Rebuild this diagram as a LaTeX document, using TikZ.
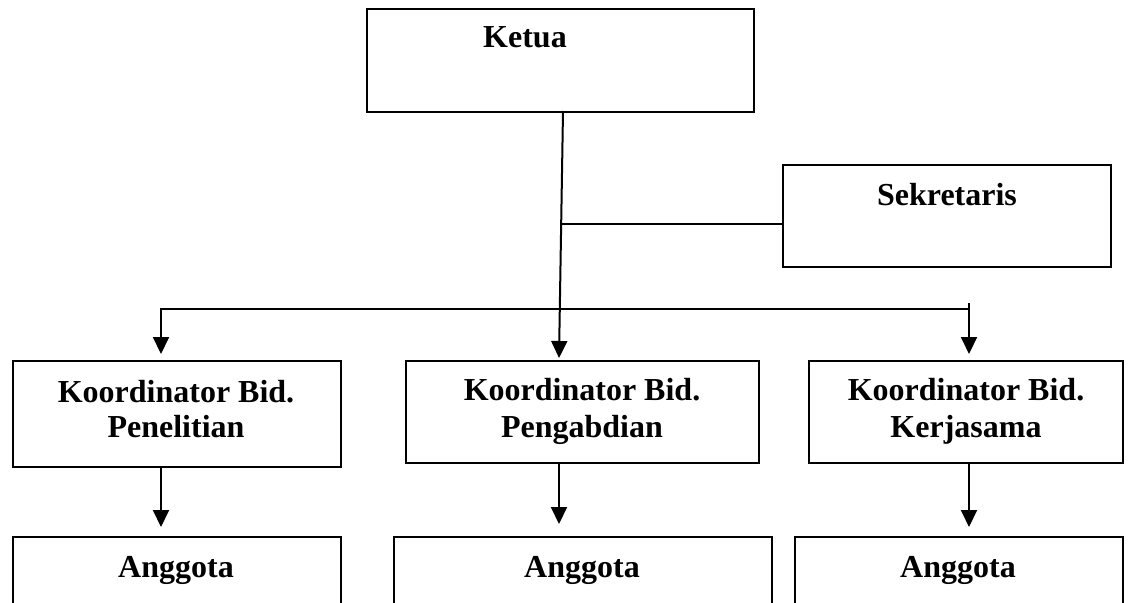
\documentclass[tikz,border=0pt]{standalone}
\usepackage{fontspec}
\setmainfont{Liberation Serif}
\usetikzlibrary{arrows.meta}
\begin{document}
\begin{tikzpicture}[x=1pt,y=-1pt,
  box/.style={draw, line width=2pt, inner sep=0pt, anchor=north west},
  lbl/.style={anchor=base, inner sep=0pt, font=\fontsize{32}{35}\selectfont\bfseries},
  conn/.style={line width=2pt},
  arr/.style={conn, -{Triangle[width=16pt,length=17pt]}}]
\clip (0,0) rectangle (1129,602);
\fill[white] (0,0) rectangle (1129,602);
% boxes
\node[box, minimum width=387pt, minimum height=103pt] (ketua) at (366,8) {};
\node[box, minimum width=328pt, minimum height=102pt] (sek) at (782,164) {};
\node[box, minimum width=328pt, minimum height=106pt] (k1) at (12,360) {};
\node[box, minimum width=353pt, minimum height=102pt] (k2) at (405,360) {};
\node[box, minimum width=314pt, minimum height=102pt] (k3) at (808,360) {};
\node[box, minimum width=328pt, minimum height=90pt] (a1) at (12,536) {};
\node[box, minimum width=378pt, minimum height=90pt] (a2) at (393,536) {};
\node[box, minimum width=328pt, minimum height=90pt] (a3) at (794,536) {};
% texts
\node[lbl] (tketua) at (525,48) {Ketua};
\node[lbl] (tsek) at (947,205) {Sekretaris};
\node[lbl] (tk1a) at (176,402) {Koordinator Bid.};
\node[lbl] (tk1b) at (176,437) {Penelitian};
\node[lbl] (tk2a) at (582,400) {Koordinator Bid.};
\node[lbl] (tk2b) at (582,437) {Pengabdian};
\node[lbl] (tk3a) at (966,400) {Koordinator Bid.};
\node[lbl] (tk3b) at (966,437) {Kerjasama};
\node[lbl] (ta1) at (176,577) {Anggota};
\node[lbl] (ta2) at (582,577) {Anggota};
\node[lbl] (ta3) at (958,577) {Anggota};
% connector points
\coordinate (kt) at (563,111);
\coordinate (j) at (561,224);
\coordinate (k2in) at (559,358);
\coordinate (bl) at (161,309);
\coordinate (br) at (969,309);
\coordinate (rt) at (969,303);
\coordinate (t1) at (161,354);
\coordinate (t3) at (969,354);
\coordinate (d1) at (161,527);
\coordinate (d2) at (559,524);
\coordinate (d3) at (969,527);
% connectors
\draw[arr] (kt) -- (k2in);
\draw[conn] (j) -- (j -| sek.west);
\draw[arr] (br) -- (bl) -- (t1);
\draw[arr] (rt) -- (t3);
\draw[arr] (d1 |- k1.south) -- (d1);
\draw[arr] (d2 |- k2.south) -- (d2);
\draw[arr] (d3 |- k3.south) -- (d3);
\end{tikzpicture}
\end{document}
